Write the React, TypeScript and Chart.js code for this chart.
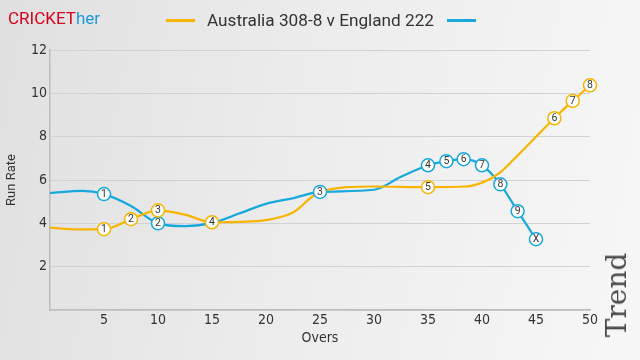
import React, { useEffect, useRef } from "react";
import { Chart, registerables } from "chart.js";

Chart.register(...registerables);

// Australia innings: over, run rate, wicket marker label ("" = no wicket)
const ausOvers = [0, 2.5, 5, 7.5, 10, 12.5, 15, 17.5, 20, 22.5, 25, 30, 35, 38.5, 40, 41.5, 43, 45, 46.7, 48.4, 50];
const ausRate = [3.8, 3.72, 3.73, 4.19, 4.6, 4.4, 4.05, 4.07, 4.15, 4.5, 5.45, 5.7, 5.67, 5.7, 5.88, 6.28, 6.98, 8.0, 8.85, 9.65, 10.37];
const ausWickets = ["", "", "1", "2", "3", "", "4", "", "", "", "", "", "5", "", "", "", "", "", "6", "7", "8"];

// England innings
const engOvers = [0, 3, 5, 7.5, 10, 12.5, 15, 17.5, 20, 22.5, 25, 30, 32.5, 35, 36.7, 38.3, 40, 41.7, 43.3, 45];
const engRate = [5.4, 5.5, 5.35, 4.8, 4.0, 3.87, 4.02, 4.45, 4.9, 5.16, 5.45, 5.55, 6.15, 6.68, 6.87, 6.96, 6.68, 5.8, 4.56, 3.27];
const engWickets = ["", "", "1", "", "2", "", "", "", "", "", "3", "", "", "4", "5", "6", "7", "8", "9", "X"];

const yTicks = [2, 4, 6, 8, 10, 12];
const xTicks = [5, 10, 15, 20, 25, 30, 35, 40, 45, 50];

const legendText = "Australia 308-8 v England 222";

const AUS_COLOR = "#f7b500";
const ENG_COLOR = "#17a8dc";

function toPoints(xs: number[], ys: number[]) {
  return xs.map((x, i) => ({ x, y: ys[i] }));
}
function wicketPoints(xs: number[], ys: number[], w: string[]) {
  const pts: { x: number; y: number; label: string }[] = [];
  xs.forEach((x, i) => {
    if (w[i] !== "") pts.push({ x, y: ys[i], label: w[i] });
  });
  return pts;
}

const labelPlugin = {
  id: "wicketLabels",
  afterDatasetsDraw(chart: any) {
    const ctx = chart.ctx;
    ctx.save();
    ctx.font = "10.5px Roboto, 'Open Sans', sans-serif";
    ctx.fillStyle = "#333";
    ctx.textAlign = "center";
    ctx.textBaseline = "middle";
    chart.data.datasets.forEach((ds: any, di: number) => {
      if (!ds.isWicket) return;
      const meta = chart.getDatasetMeta(di);
      meta.data.forEach((el: any, i: number) => {
        ctx.fillText(ds.data[i].label, el.x, el.y + 0.5);
      });
    });
    ctx.restore();
  },
};

export default function App() {
  const ref = useRef<HTMLCanvasElement>(null);

  useEffect(() => {
    if (!ref.current) return;
    const tickFont = { family: "'Liberation Sans Narrow', 'DejaVu Sans Condensed', Arial, sans-serif", size: 14 };
    const chart = new Chart(ref.current, {
      type: "line",
      data: {
        datasets: [
          {
            isWicket: true,
            data: wicketPoints(ausOvers, ausRate, ausWickets),
            showLine: false,
            pointRadius: 6.5,
            pointBackgroundColor: "#fff",
            pointBorderColor: AUS_COLOR,
            pointBorderWidth: 1.5,
            clip: false,
          } as any,
          {
            isWicket: true,
            data: wicketPoints(engOvers, engRate, engWickets),
            showLine: false,
            pointRadius: 6.5,
            pointBackgroundColor: "#fff",
            pointBorderColor: ENG_COLOR,
            pointBorderWidth: 1.5,
            clip: false,
          } as any,
          {
            data: toPoints(ausOvers, ausRate),
            borderColor: AUS_COLOR,
            borderWidth: 2.2,
            pointRadius: 0,
            cubicInterpolationMode: "monotone",
            fill: false,
            clip: false,
          } as any,
          {
            data: toPoints(engOvers, engRate),
            borderColor: ENG_COLOR,
            borderWidth: 2.2,
            pointRadius: 0,
            cubicInterpolationMode: "monotone",
            fill: false,
            clip: false,
          } as any,
        ],
      },
      options: {
        responsive: false,
        animation: false,
        layout: { padding: { left: 0, top: 50, right: 50, bottom: 9 } },
        plugins: { legend: { display: false }, tooltip: { enabled: false } },
        scales: {
          x: {
            type: "linear",
            min: 0,
            max: 50,
            afterBuildTicks: (s: any) => {
              s.ticks = xTicks.map((v) => ({ value: v }));
            },
            afterFit: (s: any) => {
              s.height = 41;
            },
            ticks: { color: "#333", font: tickFont, padding: 2, maxRotation: 0, autoSkip: false },
            grid: { display: false, drawTicks: false },
            border: { color: "#bdbdbd", width: 1.5 },
            title: { display: true, text: "Overs", color: "#333", font: tickFont, padding: { top: 2, bottom: 4 } },
          },
          y: {
            min: 0,
            max: 12,
            afterBuildTicks: (s: any) => {
              s.ticks = [0, ...yTicks].map((v) => ({ value: v }));
            },
            afterFit: (s: any) => {
              s.width = 50;
            },
            ticks: {
              color: "#333",
              font: tickFont,
              padding: 3,
              callback: (v: any) => (v === 0 ? "" : String(v)),
            },
            grid: { color: "#d2d2d2", drawTicks: false, lineWidth: 1 },
            border: { color: "#bdbdbd", width: 1.5 },
            title: {
              display: true,
              text: "Run Rate",
              color: "#333",
              font: { family: "Roboto, 'Open Sans', sans-serif", size: 13 },
              padding: { top: 4, bottom: 4 },
            },
          },
        },
      } as any,
      plugins: [labelPlugin],
    });
    return () => chart.destroy();
  }, []);

  return (
    <div
      style={{
        position: "fixed",
        left: 0,
        top: 0,
        width: 640,
        height: 360,
        background: "linear-gradient(100deg, #e0e0e0 0%, #ececec 45%, #f7f7f7 100%)",
        overflow: "hidden",
      }}
    >
      <canvas ref={ref} width={640} height={360} style={{ position: "absolute", left: 0, top: 0 }} />
      <div
        style={{
          position: "absolute",
          left: 8,
          top: 7,
          fontFamily: "Roboto, 'Open Sans', sans-serif",
          fontSize: 17,
          lineHeight: "22px",
          whiteSpace: "nowrap",
        }}
      >
        <span style={{ color: "#d9001b" }}>CRICKET</span>
        <span style={{ color: "#1d9ad8" }}>her</span>
      </div>
      <div style={{ position: "absolute", left: 166, top: 19, width: 29, height: 3, background: AUS_COLOR }} />
      <div
        style={{
          position: "absolute",
          left: 207,
          top: 9,
          fontFamily: "Roboto, 'Open Sans', sans-serif",
          fontSize: 17.2,
          lineHeight: "22px",
          color: "#333",
          whiteSpace: "nowrap",
        }}
      >
        {legendText}
      </div>
      <div style={{ position: "absolute", left: 447, top: 19, width: 29, height: 3, background: ENG_COLOR }} />
      <div
        style={{
          position: "absolute",
          left: 617,
          top: 295,
          transform: "translate(-50%, -50%) rotate(-90deg)",
          fontFamily: "'DejaVu Serif', serif",
          fontSize: 28,
          lineHeight: "30px",
          color: "#4a4a4a",
          whiteSpace: "nowrap",
        }}
      >
        Trend
      </div>
    </div>
  );
}
